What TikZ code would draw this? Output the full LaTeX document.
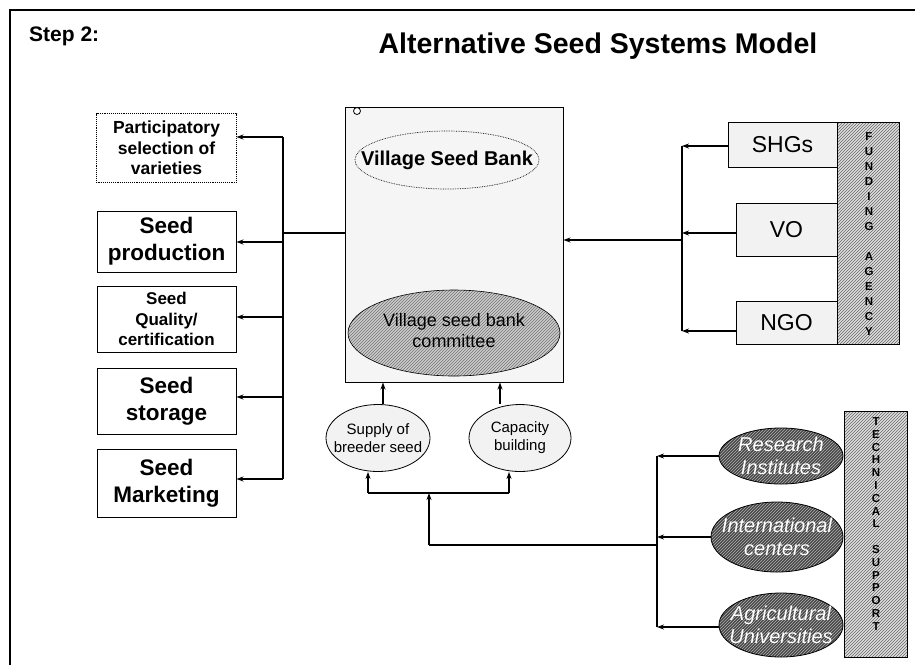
\documentclass[tikz,border=0pt]{standalone}
\usepackage{fontspec}
\setmainfont{Liberation Sans}
\usetikzlibrary{patterns,arrows.meta,shapes.geometric}
\newcommand{\fs}[2]{\fontsize{#1}{#2}\selectfont}
\begin{document}
\begin{tikzpicture}[x=1pt,y=-1pt,
  lbox/.style={draw,line width=1pt,align=center,inner sep=0pt,minimum width=139pt,font=\bfseries},
  rbox/.style={draw,line width=1pt,align=center,inner sep=0pt,fill=gray!10,font=\fs{23}{26}},
  bar/.style={draw,line width=1pt,inner sep=0pt,preaction={fill=gray!25},pattern=north east lines,pattern color=black!60},
  conn/.style={line width=1.2pt},
  arr/.style={line width=1.2pt,-{Stealth[length=7pt,width=5pt]}},
  light/.style={draw,line width=0.8pt,ellipse,inner sep=0pt,fill=gray!10},
  dark/.style={draw,line width=0.8pt,ellipse,inner sep=0pt,preaction={fill=black!72},pattern=north east lines,pattern color=gray!60},
  darktext/.style={align=center,text=white,inner sep=0pt,font=\itshape\fs{20}{23}},
  lighttext/.style={align=center,inner sep=0pt,font=\fs{15}{18}},
  letter/.style={font=\bfseries\fs{11.5}{12},inner sep=0pt}]
\useasboundingbox (0,0) rectangle (915,665);
% frame
\draw[line width=2pt] (10,665) -- (10,10) -- (915,10);
% titles
\node[font=\bfseries\fs{21}{24},anchor=west,inner sep=0pt] (step) at (29,36) {Step 2:};
\node[font=\bfseries\fs{28.5}{32}] (title) at (598,46) {Alternative Seed Systems Model};
% left boxes
\node[lbox,draw=none,minimum height=68pt,font=\bfseries\fs{17.5}{20.5}] (part) at (166.5,148) {Participatory\\selection of\\varieties};
\draw[densely dotted,line width=0.9pt] (part.south west) rectangle (part.north east);
\node[lbox,minimum height=61pt,font=\bfseries\fs{22.5}{27}] (prod) at (166.5,241.5) {Seed\\production};
\node[lbox,minimum height=66pt,font=\bfseries\fs{17}{20.5}] (qual) at (166.5,319) {Seed\\Quality/\\certification};
\node[lbox,minimum height=66pt,font=\bfseries\fs{22.5}{27}] (stor) at (166.5,401) {Seed\\storage};
\node[lbox,minimum height=68pt,font=\bfseries\fs{22.5}{27}] (mark) at (166.5,483) {Seed\\Marketing};
% village seed bank
\node[draw,line width=1pt,fill=gray!8,minimum width=218pt,minimum height=275pt,inner sep=0pt] (vsb) at (454,244.5) {};
\node[draw,circle,line width=0.8pt,minimum size=7pt,inner sep=0pt,fill=white] (dot) at (357,111) {};
\node[draw,densely dotted,line width=0.7pt,ellipse,minimum width=184pt,minimum height=58pt,inner sep=0pt] (vsbt) at (447,160) {};
\node[font=\bfseries\fs{20}{23},inner sep=0pt] (vsbl) at (vsbt.center) {Village Seed Bank};
\node[draw,line width=0.6pt,ellipse,minimum width=212pt,minimum height=86pt,inner sep=0pt,preaction={fill=gray!40},pattern=north east lines,pattern color=black!55] (comm) at (454,333) {};
\node[align=center,inner sep=0pt,font=\fs{18}{21}] (comml) at (454,331) {Village seed bank\\committee};
% left bus
\coordinate (lt) at (283,137);
\coordinate (lb) at (283,479);
\coordinate (lm) at (283,233);
\draw[conn] (lt) -- (lb);
\draw[conn] (vsb.west |- lm) -- (lm);
\draw[arr] (lt) -- (part.east |- lt);
\draw[arr] (lm |- 0,242) -- (prod.east |- 0,242);
\draw[arr] (lm |- 0,317) -- (qual.east |- 0,317);
\draw[arr] (lm |- 0,397) -- (stor.east |- 0,397);
\draw[arr] (lb) -- (mark.east |- lb);
% right side
\node[rbox,minimum width=109pt,minimum height=45pt] (shg) at (782.5,144.5) {SHGs};
\node[rbox,minimum width=101pt,minimum height=53pt] (vo) at (786.5,229.5) {VO};
\node[rbox,minimum width=101pt,minimum height=43pt] (ngo) at (786.5,322.5) {NGO};
\node[bar,minimum width=62pt,minimum height=222pt] (fund) at (868,233) {};
\foreach \l/\yy [count=\i] in {F/137,U/152,N/167,D/182,I/197,N/212,G/227,A/257,G/272,E/287,N/302,C/317,Y/332}
  \node[letter] (f\i) at (869,\yy) {\l};
\coordinate (rt) at (682,146);
\coordinate (rb) at (682,331);
\coordinate (rm) at (682,240);
\draw[conn] (rt) -- (rb);
\draw[arr] (shg.west |- rt) -- (rt);
\draw[arr] (vo.west |- 0,233) -- (rm |- 0,233);
\draw[arr] (ngo.west |- rb) -- (rb);
\draw[arr] (rm) -- (vsb.east |- rm);
% bottom ellipses
\node[light,minimum width=104pt,minimum height=67pt] (sup) at (378,438) {};
\node[lighttext] (supl) at (sup.center) {Supply of\\breeder seed};
\node[light,minimum width=102pt,minimum height=67pt] (cap) at (520,438) {};
\node[lighttext] (capl) at (cap.center) {Capacity\\building};
\draw[arr] (sup.north -| 383,0) -- (vsb.south -| 383,0);
\draw[arr] (cap.north -| 500,0) -- (vsb.south -| 500,0);
\coordinate (bl) at (368,493);
\coordinate (br) at (509,493);
\coordinate (bm) at (429,493);
\coordinate (bd) at (429,545);
\coordinate (tj) at (657,545);
\draw[conn] (bl) -- (br);
\draw[arr] (bl) -- (bl |- sup.south);
\draw[arr] (br) -- (br |- cap.south);
\draw[arr] (bd) -- (bm);
\draw[conn] (bd) -- (tj);
% technical support
\node[dark,minimum width=124pt,minimum height=56pt] (res) at (781,456) {};
\node[darktext] (resl) at (res.center) {Research\\Institutes};
\node[dark,minimum width=132pt,minimum height=70pt] (int) at (777,537) {};
\node[darktext] (intl) at (int.center) {International\\centers};
\node[dark,minimum width=124pt,minimum height=64pt] (agr) at (781,625) {};
\node[darktext] (agrl) at (agr.center) {Agricultural\\Universities};
\node[bar,minimum width=63pt,minimum height=246pt] (tech) at (875.5,534) {};
\foreach \l/\yy [count=\i] in {T/422,E/435,C/448,H/460,N/473,I/486,C/499,A/512,L/524,S/550,U/563,P/576,P/588,O/601,R/614,T/627}
  \node[letter] (t\i) at (876,\yy) {\l};
\coordinate (tt) at (657,456);
\coordinate (tb) at (657,627);
\draw[conn] (tt) -- (tb);
\draw[arr] (res.west |- tt) -- (tt);
\draw[arr] (int.west |- 0,537) -- (tj |- 0,537);
\draw[arr] (agr.west |- tb) -- (tb);
\end{tikzpicture}
\end{document}
